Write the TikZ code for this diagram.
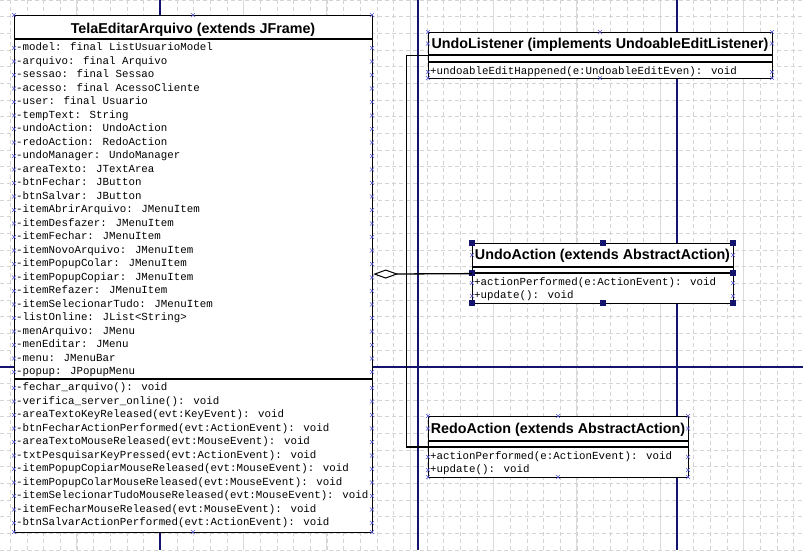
\documentclass[tikz,border=0pt]{standalone}
\usepackage{fontspec}
\usetikzlibrary{arrows.meta,calc}
\newfontfamily\ttlfont{Liberation Sans}
\newfontfamily\monofont{Liberation Mono}
\definecolor{gridc}{RGB}{212,212,212}
\definecolor{pagec}{RGB}{20,20,110}
\definecolor{xmc}{RGB}{90,90,210}
\begin{document}
\begin{tikzpicture}[x=1pt,y=-1pt,
  gridminor/.style={draw=gridc, line width=0.7pt, dash pattern=on 4pt off 3pt},
  gridmajor/.style={draw=gridc!85, line width=0.8pt},
  pageline/.style={draw=pagec, line width=1.3pt},
  classbox/.style={draw=black, line width=1.2pt, fill=white, anchor=north west, inner sep=0pt},
  sep/.style={draw=black, line width=1.2pt},
  ttl/.style={font=\ttlfont\bfseries\fontsize{14.3}{16}\selectfont, inner sep=0pt, anchor=base},
  mono/.style={font=\monofont\fontsize{10.8}{12}\selectfont, anchor=west, inner sep=0pt, text height=7pt, text depth=2pt},
  conn/.style={draw=black, line width=1.3pt},
  aggr/.style={conn, {Diamond[open, length=25pt, width=9pt, line width=1pt]}-},
  xmst/.style={draw=xmc, line width=0.5pt},
  handle/.style={fill=pagec},
  xm/.pic={\draw[xmst] (-2,-2) -- (2,2) (-2,2) -- (2,-2);}
]
\useasboundingbox (0,0) rectangle (803,550);
\fill[white] (0,0) rectangle (803,550);
% grid
\foreach \i in {0,...,47} { \draw[gridminor] ({10.2+16.667*\i},0) -- ({10.2+16.667*\i},550); }
\foreach \i in {4,9,...,44} { \draw[gridmajor] ({10.2+16.667*\i},0) -- ({10.2+16.667*\i},550); }
\foreach \j in {0,...,33} { \draw[gridminor] (0,{16.667*\j}) -- (803,{16.667*\j}); }
% page breaks
\draw[pageline] (160,0) -- (160,550);
\draw[pageline] (418,0) -- (418,550);
\draw[pageline] (677,0) -- (677,550);
\draw[pageline] (0,367) -- (803,367);

% ---------- main class
\node[classbox, minimum width=358pt, minimum height=517pt] (main) at (14,15) {};
\draw[sep] (14,39) -- (372,39);
\draw[sep] (14,379) -- (372,379);
\node[ttl] (maint) at (193,33) {TelaEditarArquivo (extends JFrame)};
\foreach \t [count=\k from 0] in {
 -model: final ListUsuarioModel,
 -arquivo: final Arquivo,
 -sessao: final Sessao,
 -acesso: final AcessoCliente,
 -user: final Usuario,
 -tempText: String,
 -undoAction: UndoAction,
 -redoAction: RedoAction,
 -undoManager: UndoManager,
 -areaTexto: JTextArea,
 -btnFechar: JButton,
 -btnSalvar: JButton,
 -itemAbrirArquivo: JMenuItem,
 -itemDesfazer: JMenuItem,
 -itemFechar: JMenuItem,
 -itemNovoArquivo: JMenuItem,
 -itemPopupColar: JMenuItem,
 -itemPopupCopiar: JMenuItem,
 -itemRefazer: JMenuItem,
 -itemSelecionarTudo: JMenuItem,
 -listOnline: JList<String>,
 -menArquivo: JMenu,
 -menEditar: JMenu,
 -menu: JMenuBar,
 -popup: JPopupMenu}
 { \node[mono] (ma\k) at (16,{48+13.5*\k}) {\t};
   \pic at (14,{48+13.5*\k}) {xm}; \pic at (372,{48+13.5*\k}) {xm}; }
\foreach \t [count=\k from 0] in {
 -fechar\_arquivo(): void,
 -verifica\_server\_online(): void,
 -areaTextoKeyReleased(evt:KeyEvent): void,
 -btnFecharActionPerformed(evt:ActionEvent): void,
 -areaTextoMouseReleased(evt:MouseEvent): void,
 -txtPesquisarKeyPressed(evt:ActionEvent): void,
 -itemPopupCopiarMouseReleased(evt:MouseEvent): void,
 -itemPopupColarMouseReleased(evt:MouseEvent): void,
 -itemSelecionarTudoMouseReleased(evt:MouseEvent): void,
 -itemFecharMouseReleased(evt:MouseEvent): void,
 -btnSalvarActionPerformed(evt:ActionEvent): void}
 { \node[mono] (mm\k) at (16,{388+13.5*\k}) {\t};
   \pic at (14,{388+13.5*\k}) {xm}; \pic at (372,{388+13.5*\k}) {xm}; }
\foreach \p in {(14,15),(193,15),(372,15),(14,532),(193,532),(372,532)} { \pic at \p {xm}; }

% ---------- UndoListener
\node[classbox, minimum width=344pt, minimum height=46pt] (ul) at (428,32) {};
\draw[sep] (428,55) -- (772,55);
\draw[sep] (428,62) -- (772,62);
\node[ttl] (ult) at (600,48.5) {UndoListener (implements UndoableEditListener)};
\node[mono] (ulm) at (430,72) {+undoableEditHappened(e:UndoableEditEven): void};
\foreach \p in {(428,32),(600,32),(772,32),(428,78),(600,78),(772,78),(428,43.5),(772,43.5),(428,72),(772,72)} { \pic at \p {xm}; }

% ---------- UndoAction
\node[classbox, minimum width=261pt, minimum height=60pt] (ua) at (472,243) {};
\draw[sep] (472,267) -- (733,267);
\draw[sep] (472,273) -- (733,273);
\node[ttl] (uat) at (602.5,259.5) {UndoAction (extends AbstractAction)};
\node[mono] (uam1) at (474,283) {+actionPerformed(e:ActionEvent): void};
\node[mono] (uam2) at (474,296) {+update(): void};
\foreach \p in {(472,255),(733,255),(472,283),(733,283),(472,296),(733,296)} { \pic at \p {xm}; }
\foreach \p in {(472,243),(602.5,243),(733,243),(472,273),(733,273),(472,303),(602.5,303),(733,303)} { \fill[handle] \p ++(-3,-3) rectangle ++(6,6); }

% ---------- RedoAction
\node[classbox, minimum width=260pt, minimum height=61pt] (ra) at (428,416) {};
\draw[sep] (428,441) -- (688,441);
\draw[sep] (428,447) -- (688,447);
\node[ttl] (rat) at (558,433.5) {RedoAction (extends AbstractAction)};
\node[mono] (ram1) at (430,457) {+actionPerformed(e:ActionEvent): void};
\node[mono] (ram2) at (430,470) {+update(): void};
\foreach \p in {(428,416),(558,416),(688,416),(428,477),(558,477),(688,477),(428,428.5),(688,428.5),(428,457),(688,457),(428,470),(688,470)} { \pic at \p {xm}; }

% ---------- connectors
\coordinate (j) at ($(main.east)!0.34!(ua.west)$);
\draw[aggr] (main.east) -- (ua.west);
\draw[conn] (j) |- (ul.west);
\draw[conn] (j) |- (ra.west);
\end{tikzpicture}
\end{document}
